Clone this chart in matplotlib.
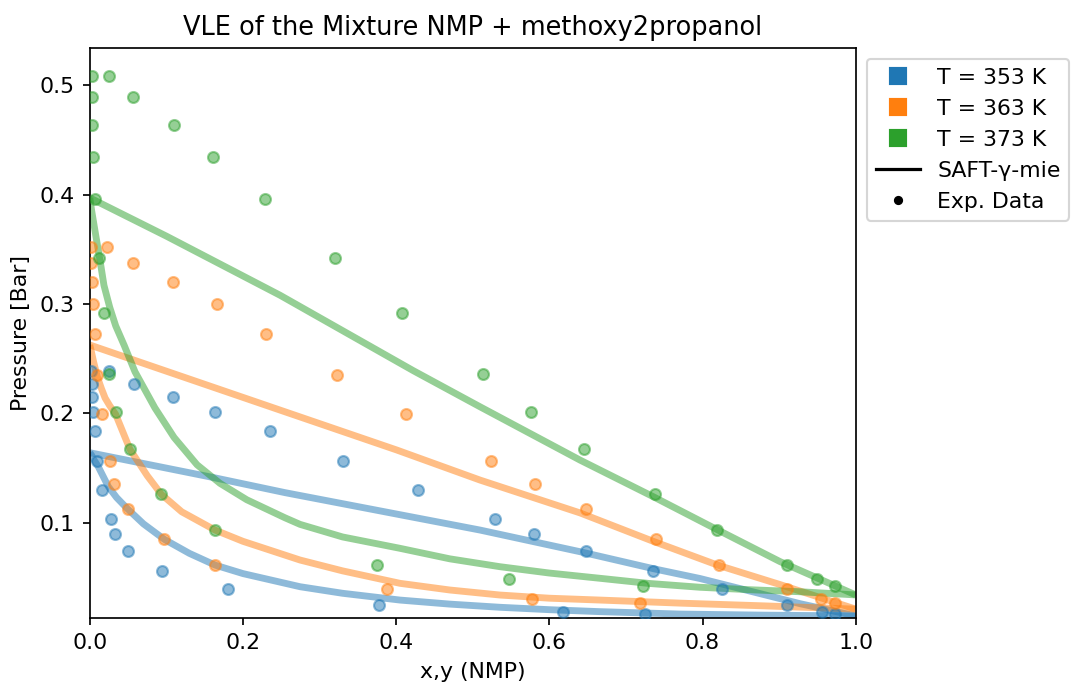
import matplotlib
matplotlib.use("Agg")
import matplotlib.pyplot as plt
from matplotlib.lines import Line2D

# ---- Experimental data (pressure in bar, liquid x and vapour y mole fractions of NMP)
P_353 = [0.2387, 0.2272, 0.2152, 0.2012, 0.1835, 0.1564, 0.1302, 0.1034, 0.0899, 0.0737, 0.0558, 0.0391, 0.0252, 0.0188, 0.0166]
x_353 = [0.0016, 0.0029, 0.0029, 0.0046, 0.0064, 0.0098, 0.0163, 0.0273, 0.0333, 0.0503, 0.0949, 0.1808, 0.378, 0.6178, 0.7253]
y_353 = [0.0245, 0.0581, 0.1086, 0.1635, 0.2357, 0.3306, 0.4285, 0.5287, 0.58, 0.6483, 0.735, 0.8254, 0.9103, 0.9566, 0.973]

P_363 = [0.3517, 0.3377, 0.3203, 0.2996, 0.2725, 0.235, 0.1994, 0.1564, 0.1351, 0.113, 0.0848, 0.0613, 0.0396, 0.0307, 0.0269]
x_363 = [0.002, 0.002, 0.0033, 0.0046, 0.0064, 0.0098, 0.0163, 0.0268, 0.0319, 0.0499, 0.0969, 0.1635, 0.3884, 0.577, 0.718]
y_363 = [0.0221, 0.0568, 0.1086, 0.1657, 0.2304, 0.3232, 0.4125, 0.5238, 0.5813, 0.6479, 0.7393, 0.8216, 0.9103, 0.9547, 0.973]

P_373 = [0.508, 0.489, 0.4635, 0.434, 0.396, 0.342, 0.292, 0.236, 0.201, 0.167, 0.126, 0.0929, 0.0609, 0.049, 0.0423]
x_373 = [0.0025, 0.0033, 0.0033, 0.0046, 0.0068, 0.0116, 0.0189, 0.0247, 0.0338, 0.0525, 0.0934, 0.1635, 0.3746, 0.5477, 0.7223]
y_373 = [0.0251, 0.0568, 0.110, 0.1608, 0.2288, 0.3203, 0.408, 0.5134, 0.576, 0.6452, 0.738, 0.8193, 0.9103, 0.9495, 0.973]

# ---- SAFT-gamma-Mie model curves
saft353_up_x = [0, 0.1635, 0.2549, 0.4, 0.5095, 0.6401, 0.7357, 0.7967, 0.9273, 1.0]
saft353_up_P = [0.164, 0.141, 0.1275, 0.108, 0.0933, 0.0735, 0.058, 0.049, 0.026, 0.0148]
saft353_lo_x = [0, 0.0025, 0.005, 0.0111, 0.0242, 0.035, 0.0495, 0.07, 0.0973, 0.13, 0.1635, 0.2, 0.2745, 0.33, 0.405, 0.47, 0.5355, 0.6, 0.6661, 0.7705, 0.88, 1.0]
saft353_lo_P = [0.164, 0.1615, 0.158, 0.1512, 0.133, 0.123, 0.1125, 0.099, 0.0848, 0.072, 0.0613, 0.0535, 0.0415, 0.0355, 0.0293, 0.0256, 0.0227, 0.0205, 0.0187, 0.0165, 0.0155, 0.0148]

saft363_up_x = [0, 0.2483, 0.4007, 0.5095, 0.64, 0.7357, 0.8195, 0.9011, 1.0]
saft363_up_P = [0.2625, 0.203, 0.1665, 0.139, 0.109, 0.083, 0.0613, 0.0435, 0.021]
saft363_lo_x = [0, 0.0025, 0.005, 0.01, 0.015, 0.02, 0.026, 0.0338, 0.0525, 0.075, 0.0934, 0.12, 0.1635, 0.2, 0.2745, 0.33, 0.405, 0.47, 0.5355, 0.6, 0.6661, 0.7705, 0.88, 1.0]
saft363_lo_P = [0.2625, 0.255, 0.247, 0.233, 0.223, 0.214, 0.207, 0.199, 0.167, 0.143, 0.126, 0.110, 0.0933, 0.083, 0.0659, 0.056, 0.0446, 0.0385, 0.0339, 0.031, 0.0293, 0.0265, 0.024, 0.021]

saft373_up_x = [0, 0.1, 0.2483, 0.4224, 0.5095, 0.64, 0.7357, 0.8141, 0.9011, 1.0]
saft373_up_P = [0.397, 0.362, 0.308, 0.239, 0.206, 0.1573, 0.1238, 0.0955, 0.0645, 0.034]
saft373_lo_x = [0, 0.0025, 0.0077, 0.0133, 0.0185, 0.026, 0.0338, 0.045, 0.059, 0.085, 0.11, 0.14, 0.17, 0.205, 0.2549, 0.2745, 0.33, 0.405, 0.47, 0.5355, 0.6, 0.6661, 0.73, 0.7967, 0.86, 0.9273, 1.0]
saft373_lo_P = [0.397, 0.385, 0.363, 0.34, 0.317, 0.297, 0.28, 0.262, 0.238, 0.205, 0.178, 0.153, 0.136, 0.121, 0.1045, 0.0985, 0.087, 0.0766, 0.067, 0.0598, 0.054, 0.0492, 0.0445, 0.041, 0.0388, 0.0369, 0.034]

labels = ["T = 353 K", "T = 363 K", "T = 373 K"]
colors = ["C0", "C1", "C2"]

plt.rcParams["font.size"] = 10.3

fig = plt.figure(figsize=(1089 / 154, 682 / 154), dpi=154)
ax = fig.add_axes([89.8 / 1089, 1 - 618 / 682, (855.7 - 89.8) / 1089, (618 - 48) / 682])

series = [
    (P_353, x_353, y_353, saft353_up_x, saft353_up_P, saft353_lo_x, saft353_lo_P),
    (P_363, x_363, y_363, saft363_up_x, saft363_up_P, saft363_lo_x, saft363_lo_P),
    (P_373, x_373, y_373, saft373_up_x, saft373_up_P, saft373_lo_x, saft373_lo_P),
]

for (P, xe, ye, ux, uP, lx, lP), c in zip(series, colors):
    ax.plot(ux, uP, color=c, lw=3.2, alpha=0.5, solid_capstyle="butt", solid_joinstyle="round")
    ax.plot(lx, lP, color=c, lw=3.2, alpha=0.5, solid_capstyle="butt", solid_joinstyle="round")
    ax.scatter(xe, P, s=26, color=c, alpha=0.5, zorder=3)
    ax.scatter(ye, P, s=26, color=c, alpha=0.5, zorder=3)

ax.set_xlim(0, 1)
ax.set_ylim(0.0129, 0.534)
ax.set_xlabel("x,y (NMP)")
ax.set_ylabel("Pressure [Bar]")
ax.set_title("VLE of the Mixture NMP + methoxy2propanol", fontsize=12)

handles = [Line2D([0], [0], marker="s", color="w", markerfacecolor=c, markeredgecolor=c,
                  markersize=7.5, linestyle="None") for c in colors]
handles.append(Line2D([0], [0], color="black", lw=1.5))
handles.append(Line2D([0], [0], marker="o", color="black", markersize=3.3, linestyle="None"))
ax.legend(handles, labels + ["SAFT-γ-mie", "Exp. Data"], loc="upper left",
          bbox_to_anchor=(1, 1))

fig.savefig("out.png", dpi=154)
